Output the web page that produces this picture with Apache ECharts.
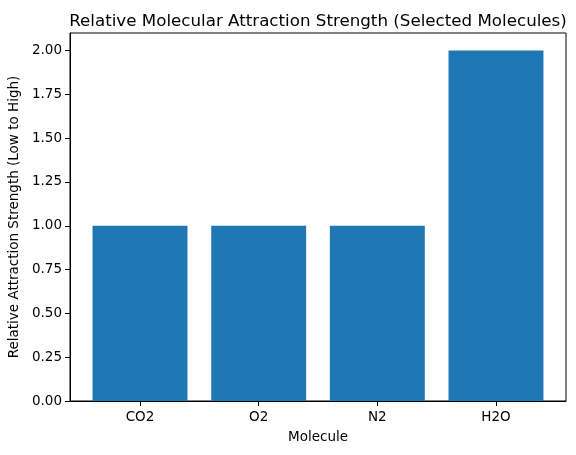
<!DOCTYPE html>
<html>
<head>
<meta charset="utf-8">
<script src="https://cdn.jsdelivr.net/npm/echarts@6/dist/echarts.min.js"></script>
<style>html,body{margin:0;padding:0;background:#fff;}#c{width:576px;height:455px;}</style>
</head>
<body>
<div id="c"></div>
<script>
const categories = ['CO2', 'O2', 'N2', 'H2O'];
const values = [1, 1, 1, 2];
const yTicks = [0, 0.25, 0.5, 0.75, 1.0, 1.25, 1.5, 1.75, 2.0];

const positions = categories.map((c, i) => i);
const chart = echarts.init(document.getElementById('c'), null, {renderer: 'canvas'});
const font = 'DejaVu Sans';
chart.setOption({
  animation: false,
  title: {
    text: 'Relative Molecular Attraction Strength (Selected Molecules)',
    left: 313, top: 8, textAlign: 'center',
    textStyle: {fontFamily: font, fontSize: 16.7, fontWeight: 'normal', color: '#000'}
  },
  grid: {left: 70, right: 10, top: 33, bottom: 54, containLabel: false, outerBoundsMode: 'none',
    show: true, borderColor: '#000', borderWidth: 1, backgroundColor: 'transparent'},
  xAxis: {
    type: 'value', min: -0.59, max: 3.59,
    name: 'Molecule', nameLocation: 'middle', nameGap: 29,
    nameTextStyle: {fontFamily: font, fontSize: 13.5, color: '#000'},
    axisLine: {show: true, onZero: false, lineStyle: {color: '#000', width: 1}},
    axisTick: {show: true, length: 5, lineStyle: {color: '#000'}, customValues: positions},
    axisLabel: {fontFamily: font, fontSize: 13.5, color: '#000', margin: 9, customValues: positions,
      formatter: v => categories[Math.round(v)]},
    splitLine: {show: false}
  },
  yAxis: {
    type: 'value', min: 0, max: 2.1,
    name: 'Relative Attraction Strength (Low to High)', nameLocation: 'middle', nameGap: 48,
    nameTextStyle: {fontFamily: font, fontSize: 13.5, color: '#000'},
    axisLine: {show: true, onZero: false, lineStyle: {color: '#000', width: 1}},
    axisTick: {show: true, length: 5, lineStyle: {color: '#000'}, customValues: yTicks},
    axisLabel: {fontFamily: font, fontSize: 13.5, color: '#000', margin: 8, customValues: yTicks,
      formatter: v => v.toFixed(2)},
    splitLine: {show: false}
  },
  series: [{
    type: 'bar',
    data: positions.map((p, i) => [p, values[i]]),
    barWidth: '80%',
    itemStyle: {color: '#1f77b4'}
  }]
});
</script>
</body>
</html>
